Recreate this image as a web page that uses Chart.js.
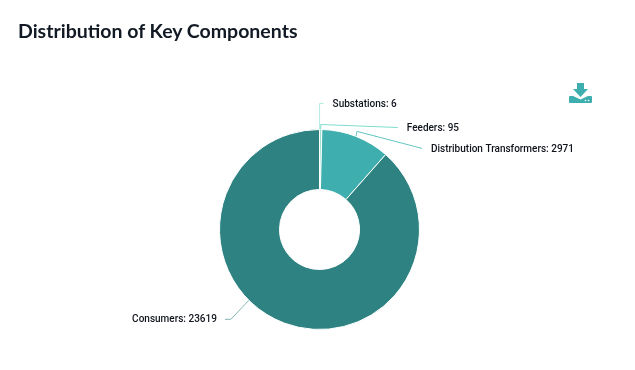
<!DOCTYPE html>
<html>
<head>
<meta charset="utf-8">
<title>Distribution of Key Components</title>
<script src="https://cdn.jsdelivr.net/npm/chart.js@4"></script>
<style>
    html, body { margin: 0; padding: 0; background: #fff; width: 635px; height: 370px; overflow: hidden; }
    #title { position: absolute; left: 18px; top: 19px; margin: 0; font: 700 19.5px Lato, "Open Sans", sans-serif; color: #111a24; }
    #save { position: absolute; left: 569px; top: 83px; }
    #chart-box { position: absolute; left: 0; top: 0; width: 635px; height: 370px; }
</style>
</head>
<body>
<div id="chart-box"><canvas id="components"></canvas></div>
<h2 id="title">Distribution of Key Components</h2>
<svg id="save" width="23" height="20" viewBox="0 0 23 20">
    <path fill="#3eaeae" d="M8 0h7v6h4l-7.5 8L4 6h4z"/>
    <path fill="#3eaeae" d="M1 13h3l7.5 3.5L19 13h3a1 1 0 0 1 1 1v5a1 1 0 0 1-1 1H1a1 1 0 0 1-1-1v-5a1 1 0 0 1 1-1z"/>
    <circle cx="16.5" cy="17.5" r=".8" fill="#fff"/><circle cx="19.5" cy="17.5" r=".8" fill="#fff"/>
</svg>
<script>
// chart data
var categories = ['Substations', 'Feeders', 'Distribution Transformers', 'Consumers'];
var counts = [6, 95, 2971, 23619];
var colors = ['#bfeee6', '#8fdccf', '#3eaeae', '#2e8382'];
var line_colors = ['#b5ece2', '#7edccc', '#62c6c0', '#82b6b4'];

// leader lines: where on the slice they start (0-1 along the arc), offset of elbow and end from there
var anchors = [0.5, 0.5, 0.5, 0.576];
var elbows = [[0, -26], [0, -5], [1, -5], [-18, 19]];
var ends = [[4, -26], [77, -2], [66, 12], [-24, 19]];

const leaderLabels = {
    id: 'leaderLabels',
    afterDatasetsDraw(chart) {
        const c = chart.ctx;
        const arcs = chart.getDatasetMeta(0).data;
        arcs.forEach(function(arc, i) {
            var ang = arc.startAngle + (arc.endAngle - arc.startAngle) * anchors[i];
            var sx = arc.x + Math.cos(ang) * arc.outerRadius;
            var sy = arc.y + Math.sin(ang) * arc.outerRadius;
            var right = ends[i][0] > 0;
            c.save();
            c.strokeStyle = line_colors[i];
            c.lineWidth = 1;
            c.beginPath();
            c.moveTo(sx, sy);
            c.lineTo(sx + elbows[i][0], sy + elbows[i][1]);
            c.lineTo(sx + ends[i][0], sy + ends[i][1]);
            c.stroke();
            c.fillStyle = '#10141c';
            c.font = '500 10px Roboto, "Noto Sans", sans-serif';
            c.textBaseline = 'middle';
            c.textAlign = right ? 'left' : 'right';
            c.fillText(categories[i] + ': ' + counts[i], sx + ends[i][0] + (right ? 9 : -8), sy + ends[i][1] + (right ? 1 : 0));
            c.restore();
        });
    }
};

new Chart(document.getElementById('components').getContext('2d'), {
    type: 'doughnut',
    data: {
        labels: categories,
        datasets: [{
            data: counts,
            backgroundColor: colors,
            borderColor: '#fff',
            borderWidth: 1,
        }]
    },
    options: {
        responsive: true,
        maintainAspectRatio: false,
        animation: false,
        cutout: '40%',
        layout: { padding: { top: 129, bottom: 40, left: 219, right: 215 } },
        plugins: {
            legend: { display: false },
            tooltip: { enabled: false },
        },
    },
    plugins: [leaderLabels]
});
</script>
</body>
</html>
